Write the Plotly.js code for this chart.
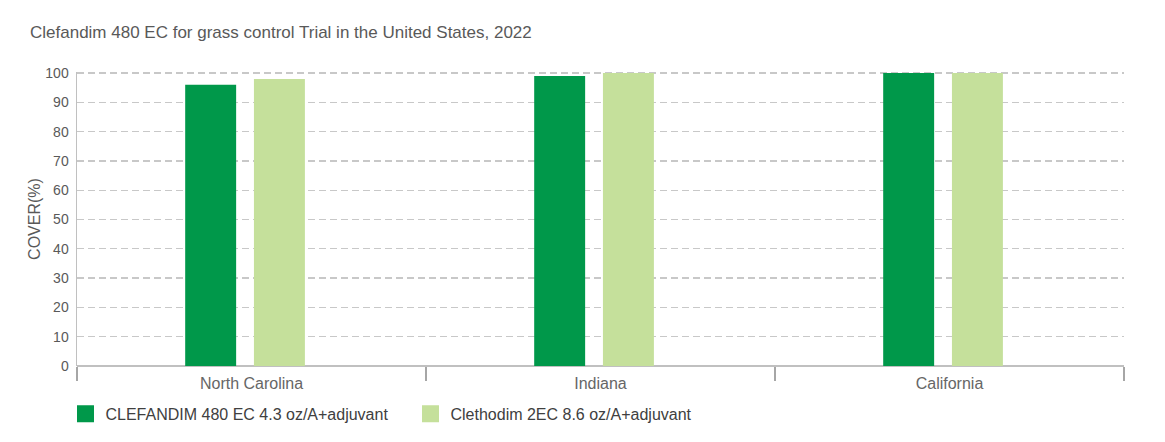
<!DOCTYPE html>
<html><head><meta charset="utf-8">
<script src="https://cdn.plot.ly/plotly-3.0.1.min.js"></script>
<style>body{margin:0;background:#fff}#chart{width:1165px;height:442px}</style>
</head><body><div id="chart"></div>
<script>
const categories = ["North Carolina", "Indiana", "California"];
const clefandim = [96, 99, 100];
const clethodim = [98, 100, 100];
const seriesNames = ["CLEFANDIM 480 EC 4.3 oz/A+adjuvant", "Clethodim 2EC 8.6 oz/A+adjuvant"];
const seriesColors = ["#00984A", "#C5E09B"];
const yTicks = [0,10,20,30,40,50,60,70,80,90,100];

const font = "Liberation Sans, Arial, sans-serif";
const traces = [
  {type:"bar", x:categories, y:clefandim, name:seriesNames[0], showlegend:false,
   marker:{color:seriesColors[0]}, width:0.146, offset:-0.19, hoverinfo:"y"},
  {type:"bar", x:categories, y:clethodim, name:seriesNames[1], showlegend:false,
   marker:{color:seriesColors[1]}, width:0.146, offset:0.007, hoverinfo:"y"},
  // legend entries only (larger swatches), no drawn bars
  {type:"bar", x:[categories[0]], y:[null], name:seriesNames[0], showlegend:true,
   marker:{color:seriesColors[0], line:{color:seriesColors[0], width:7}}, hoverinfo:"skip"},
  {type:"bar", x:[categories[0]], y:[null], name:seriesNames[1], showlegend:true,
   marker:{color:seriesColors[1], line:{color:seriesColors[1], width:7}}, hoverinfo:"skip"}
];
const layout = {
  width:1165, height:442,
  margin:{l:77, r:41, t:72, b:76, autoexpand:false},
  paper_bgcolor:"#fff", plot_bgcolor:"#fff",
  font:{family:font, color:"#595959"},
  title:{text:"Clefandim 480 EC for grass control Trial in the United States, 2022",
    xref:"container", yref:"container", x:30/1165, xanchor:"left", y:1-32/442, yanchor:"middle",
    font:{size:17, color:"#595959", family:font}},
  showlegend:true,
  legend:{orientation:"h", x:-0.011, xanchor:"left", y:-0.105, yanchor:"top",
    font:{size:16, color:"#404040", family:font}, entrywidth:300, itemclick:false},
  xaxis:{type:"category", range:[-0.5,2.5], tickson:"boundaries", ticks:"outside",
    ticklen:14, tickcolor:"#a6a6a6", tickwidth:1.5, showline:false, showgrid:false,
    zeroline:false, ticklabelstandoff:6, tickfont:{size:16, color:"#666", family:font}, fixedrange:true},
  yaxis:{range:[0,100.35], tickvals:yTicks, showline:true, linecolor:"#c0c0c0", linewidth:1.5,
    showgrid:true, gridcolor:"#c8c8c8", griddash:"7px,4px", gridwidth:1.3,
    zeroline:true, zerolinecolor:"#c0c0c0", zerolinewidth:2,
    ticks:"", ticklabelstandoff:4, tickfont:{size:14, color:"#595959", family:font},
    title:{text:"COVER(%)", standoff:0, font:{size:16, color:"#595959", family:font}}, fixedrange:true},
  bargap:0.2
};
Plotly.newPlot("chart", traces, layout, {displayModeBar:false, staticPlot:true});
</script></body></html>
